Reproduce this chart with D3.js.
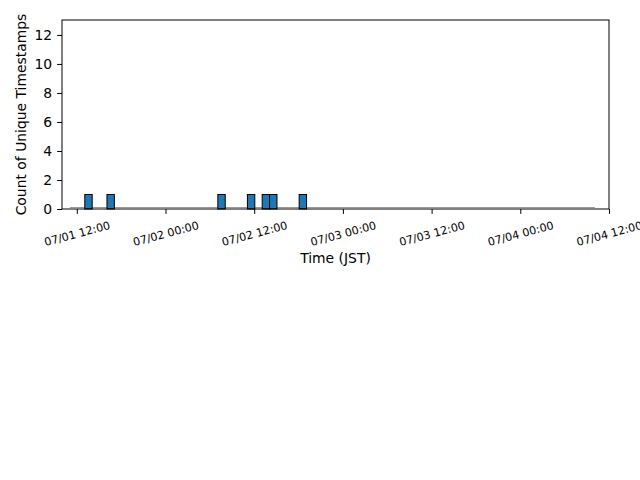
<!DOCTYPE html>
<html lang="en">
<head>
<meta charset="UTF-8">
<title>Unique timestamps histogram</title>
<script src="https://cdn.jsdelivr.net/npm/d3@7"></script>
<style>
  body { margin: 0; background: #fff; }
  text { font-family: "DejaVu Sans", sans-serif; fill: #000; }
</style>
</head>
<body>
<script>
// unique timestamps (JST)
var timestamps = [
  "2024-07-01T13:30", "2024-07-01T16:40",
  "2024-07-02T07:30", "2024-07-02T11:40",
  "2024-07-02T13:20", "2024-07-02T14:30",
  "2024-07-02T18:30"
];
var binStart = "2024-07-01T11:05";
var binHours = 1;
var binCount = 71;
var xLimits = ["2024-07-01T10:00", "2024-07-04T12:00"];
var xTickLabels = ["07/01 12:00", "07/02 00:00", "07/02 12:00", "07/03 00:00",
                   "07/03 12:00", "07/04 00:00", "07/04 12:00"];
var yTicks = [0, 2, 4, 6, 8, 10, 12];

var parse = d3.utcParse("%Y-%m-%dT%H:%M");
var fmt = d3.utcFormat("%m/%d %H:%M");

var margin = {top: 20, right: 31, bottom: 271, left: 62},
    W = 640, H = 480,
    width = W - margin.left - margin.right,
    height = H - margin.top - margin.bottom;

var svg = d3.select("body").append("svg")
    .attr("width", W).attr("height", H);
var g = svg.append("g")
    .attr("transform", "translate(" + margin.left + "," + margin.top + ")");

var x = d3.scaleUtc()
    .domain(xLimits.map(parse))
    .range([0, width]);
var y = d3.scaleLinear().domain([0, 13.03]).range([height, 0]);

// hourly bins
var t0 = parse(binStart);
var thresholds = d3.range(binCount + 1).map(function(i) {
  return d3.utcHour.offset(t0, i * binHours);
});
var bins = d3.bin()
    .domain([thresholds[0], thresholds[thresholds.length - 1]])
    .thresholds(thresholds.slice(1, -1))(timestamps.map(parse));

// empty bins still leave their edge along the bottom
g.append("line")
  .attr("x1", x(bins[0].x0))
  .attr("x2", x(bins[bins.length - 1].x1))
  .attr("y1", y(0) - 1.5).attr("y2", y(0) - 1.5)
  .attr("stroke", "#999").attr("stroke-width", 1);

g.selectAll("rect.bar")
  .data(bins.filter(function(d) { return d.length > 0; }))
  .enter().append("rect")
  .attr("class", "bar")
  .attr("x", function(d) { return x(d.x0); })
  .attr("width", function(d) { return x(d.x1) - x(d.x0); })
  .attr("y", function(d) { return y(d.length); })
  .attr("height", function(d) { return y(0) - y(d.length); })
  .attr("fill", "#1f77b4")
  .attr("stroke", "#000")
  .attr("stroke-width", 1);

// x axis
var xTickDates = xTickLabels.map(function(s) {
  return parse("2024-" + s.replace("/", "-").replace(" ", "T"));
});
var xAxis = g.append("g").attr("transform", "translate(0," + height + ")")
  .call(d3.axisBottom(x).tickValues(xTickDates).tickSize(4.9).tickFormat(""));
xAxis.select(".domain").remove();
xAxis.selectAll("line").attr("stroke", "#000");
xAxis.selectAll(".tick").append("text")
  .attr("transform", "translate(0,25) rotate(-15)")
  .attr("text-anchor", "middle")
  .attr("dominant-baseline", "central")
  .style("font-size", "11.1px")
  .text(function(d) { return fmt(d); });

// y axis
var yAxis = g.append("g")
  .call(d3.axisLeft(y).tickValues(yTicks).tickSize(4.9).tickPadding(4.9));
yAxis.select(".domain").remove();
yAxis.selectAll("line").attr("stroke", "#000");
yAxis.selectAll("text")
  .style("font-size", "13.9px")
  .attr("font-family", "DejaVu Sans")
  .attr("fill", "#000");

// frame
g.append("rect")
  .attr("x", 0).attr("y", 0)
  .attr("width", width).attr("height", height)
  .attr("fill", "none").attr("stroke", "#000").attr("stroke-width", 1);

// labels
g.append("text")
  .attr("x", width / 2).attr("y", height + 54)
  .attr("text-anchor", "middle")
  .style("font-size", "13.9px")
  .text("Time (JST)");

g.append("text")
  .attr("transform", "translate(" + (-36) + "," + (height / 2) + ") rotate(-90)")
  .attr("text-anchor", "middle")
  .style("font-size", "13.9px")
  .text("Count of Unique Timestamps");
</script>
</body>
</html>
